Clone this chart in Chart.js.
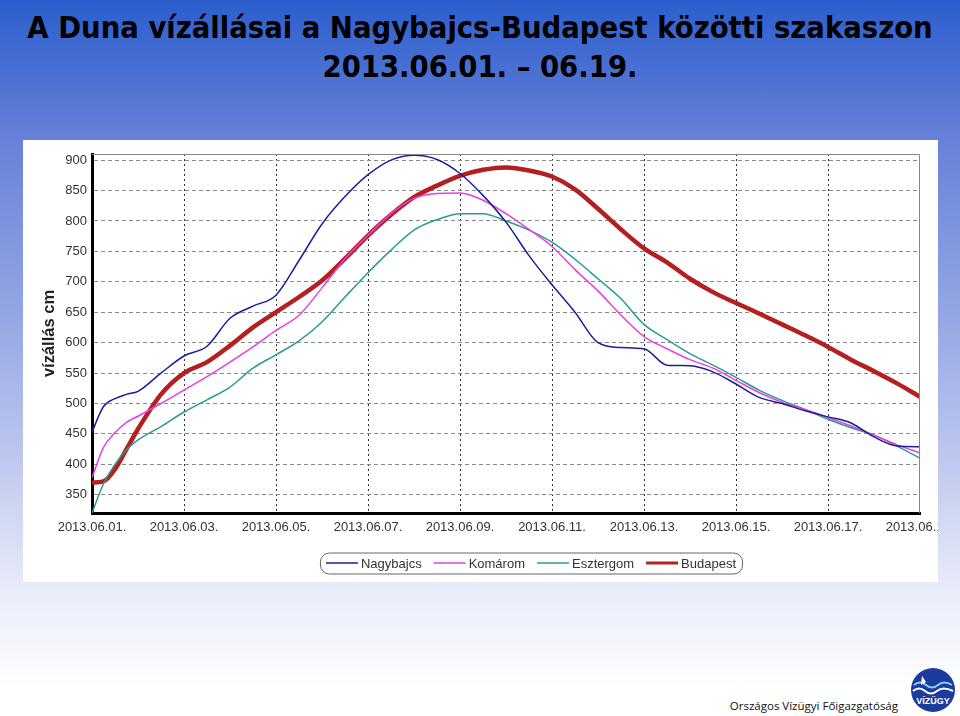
<!DOCTYPE html>
<html>
<head>
<meta charset="utf-8">
<script src="https://cdn.jsdelivr.net/npm/chart.js"></script>
<style>
  html, body { margin: 0; padding: 0; }
  body {
    width: 960px; height: 716px; position: relative; overflow: hidden;
    background: linear-gradient(to bottom, #2c5ecd 0%, #6882d8 20%, #96a8e4 45%, #bcc6ee 63%, #e8ebf9 82%, #ffffff 96%);
    font-family: 'Liberation Sans', Arial, sans-serif;
  }
  .title {
    position: absolute; left: 0; top: 8px; width: 960px; text-align: center;
    font-family: 'DejaVu Sans Condensed', 'DejaVu Sans', sans-serif; font-stretch: condensed;
    font-weight: bold; font-size: 30.6px; line-height: 39px; color: #000;
  }
  .chart-box {
    position: absolute; left: 23px; top: 140px; width: 915px; height: 442px; background: #fff;
  }
  .footer {
    position: absolute; left: 700px; top: 698px; width: 198px; text-align: right;
    font-family: 'Open Sans', sans-serif; font-size: 11.5px; color: #111;
  }
  .logo { position: absolute; left: 910px; top: 667px; }
</style>
</head>
<body>
<div class="title">A Duna vízállásai a Nagybajcs-Budapest közötti szakaszon<br>2013.06.01. – 06.19.</div>
<div class="chart-box"><canvas id="mainChart" width="915" height="442"></canvas></div>
<div class="footer">Országos Vízügyi Főigazgatóság</div>
<svg class="logo" width="46" height="46" viewBox="0 0 46 46">
  <circle cx="23" cy="23" r="22" fill="#1b3c9c"/>
  <path d="M4 18 q6 -5 12 0 t12 0 t14 0" stroke="#8fd0ff" stroke-width="2" fill="none"/>
  <path d="M3 24 q6 -5 12 0 t12 0 t16 0" stroke="#fff" stroke-width="2" fill="none"/>
  <path d="M12 9 l4 6 l-5 3 z" fill="#fff"/>
  <text x="23" y="37" text-anchor="middle" font-family="Liberation Sans" font-weight="bold" font-size="9" fill="#fff">VÍZÜGY</text>
</svg>
<script>
// idő (nap 2013.06.01. 00:00-tól)
const days = [0, 0.25, 0.5, 0.75, 1, 1.5, 2, 2.5, 3, 3.5, 4, 4.5, 5, 5.5, 6, 6.5, 7, 7.5, 8, 8.5,
  9, 9.5, 10, 10.5, 11, 11.5, 12, 12.5, 13, 13.5, 14, 14.5, 15, 15.5, 16, 16.5, 17, 17.5, 18];

const nagybajcs = [453, 495, 508, 515, 520, 550, 578, 594, 640, 660, 678, 735, 795, 840, 876, 900, 908, 901, 878, 842,
  798, 743, 695, 650, 600, 592, 590, 563, 562, 552, 532, 510, 500, 488, 478, 468, 445, 430, 429];
const komarom = [378, 428, 452, 469, 479, 500, 522, 544, 568, 593, 620, 645, 690, 738, 776, 812, 837, 845, 846, 834,
  812, 786, 758, 720, 685, 645, 610, 590, 572, 558, 538, 518, 502, 490, 477, 463, 448, 432, 419];
const esztergom = [320, 368, 400, 424, 440, 462, 486, 506, 527, 558, 580, 603, 634, 675, 715, 752, 785, 802, 812, 812,
  800, 785, 765, 737, 705, 672, 630, 605, 582, 563, 543, 522, 505, 490, 474, 460, 448, 430, 410];
const budapest = [370, 372, 392, 425, 458, 515, 550, 568, 595, 625, 650, 675, 702, 738, 776, 810, 839, 858, 874, 884,
  888, 883, 873, 852, 820, 786, 755, 732, 705, 683, 665, 648, 630, 612, 593, 572, 553, 533, 511];

const xTickLabels = ['2013.06.01.', '2013.06.03.', '2013.06.05.', '2013.06.07.', '2013.06.09.',
  '2013.06.11.', '2013.06.13.', '2013.06.15.', '2013.06.17.', '2013.06.19.'];
const yTicks = [350, 400, 450, 500, 550, 600, 650, 700, 750, 800, 850, 900];

function toPoints(values) {
  return values.map((v, i) => ({ x: days[i], y: v }));
}

// vékony szürke keret a rajzterület tetején és jobb oldalán
const frame = {
  id: 'frame',
  afterDatasetsDraw(chart) {
    const a = chart.chartArea, ctx = chart.ctx;
    ctx.save();
    ctx.strokeStyle = '#888';
    ctx.lineWidth = 1;
    ctx.beginPath();
    ctx.moveTo(a.left, a.top + 0.5);
    ctx.lineTo(a.right - 0.5, a.top + 0.5);
    ctx.lineTo(a.right - 0.5, a.bottom);
    ctx.stroke();
    ctx.restore();
  }
};

// jelmagyarázat lekerekített keretben
const boxLegend = {
  id: 'boxLegend',
  afterDraw(chart) {
    const ctx = chart.ctx;
    const sets = chart.data.datasets;
    const cx = 508, cy = 423, sample = 32, gap = 3, between = 12, pad = 6;
    ctx.save();
    ctx.font = '13px "Liberation Sans", Arial, sans-serif';
    let total = 0;
    sets.forEach((d, i) => {
      total += sample + gap + ctx.measureText(d.label).width;
      if (i < sets.length - 1) total += between;
    });
    const w = total + pad * 2, h = 21;
    ctx.strokeStyle = '#666';
    ctx.lineWidth = 1;
    ctx.beginPath();
    ctx.roundRect(cx - w / 2 + 0.5, cy - h / 2 + 0.5, w, h, 9);
    ctx.stroke();
    let x = cx - w / 2 + pad;
    ctx.textBaseline = 'middle';
    ctx.fillStyle = '#333';
    sets.forEach(d => {
      ctx.strokeStyle = d.borderColor;
      ctx.lineWidth = Math.min(d.borderWidth, 3);
      ctx.beginPath();
      ctx.moveTo(x, cy);
      ctx.lineTo(x + sample, cy);
      ctx.stroke();
      x += sample + gap;
      ctx.fillText(d.label, x, cy + 1);
      x += ctx.measureText(d.label).width + between;
    });
    ctx.restore();
  }
};

Chart.defaults.font.family = '"Liberation Sans", Arial, sans-serif';

new Chart(document.getElementById('mainChart'), {
  type: 'line',
  data: {
    datasets: [
      { label: 'Nagybajcs', data: toPoints(nagybajcs), borderColor: '#1e1e96', borderWidth: 1.5 },
      { label: 'Komárom', data: toPoints(komarom), borderColor: '#e442e0', borderWidth: 1.5 },
      { label: 'Esztergom', data: toPoints(esztergom), borderColor: '#2b9c8c', borderWidth: 1.5 },
      { label: 'Budapest', data: toPoints(budapest), borderColor: '#b41f1f', borderWidth: 4.5 }
    ]
  },
  options: {
    responsive: false,
    animation: false,
    events: [],
    elements: {
      point: { radius: 0 },
      line: { tension: 0.35, cubicInterpolationMode: 'monotone' }
    },
    layout: { padding: { left: 0, right: 18, top: 14, bottom: 41 } },
    plugins: {
      legend: { display: false },
      tooltip: { enabled: false }
    },
    scales: {
      x: {
        type: 'linear',
        min: 0,
        max: 18,
        afterBuildTicks: scale => {
          scale.ticks = xTickLabels.map((t, i) => ({ value: i * 2 }));
        },
        afterFit: scale => {
          scale.height = 28;
          scale.paddingLeft = 0;
          scale.paddingRight = 0;
        },
        ticks: {
          autoSkip: false,
          maxRotation: 0,
          padding: 7,
          color: '#333',
          font: { size: 13 },
          callback: (v) => xTickLabels[Math.round(v / 2)]
        },
        grid: {
          drawTicks: false,
          lineWidth: 1,
          color: c => (c.tick && c.tick.value > 0 && c.tick.value < 18) ? '#333' : 'rgba(0,0,0,0)'
        },
        border: { display: true, color: '#000', width: 3, dash: [2, 3] }
      },
      y: {
        min: 320,
        max: 910,
        afterBuildTicks: scale => {
          scale.ticks = yTicks.map(v => ({ value: v }));
        },
        afterFit: scale => {
          scale.width = 69;
          scale.paddingTop = 0;
          scale.paddingBottom = 0;
        },
        ticks: { padding: 5, color: '#333', font: { size: 13 } },
        grid: { drawTicks: false, color: '#8a8a8a', lineWidth: 1 },
        border: { display: true, color: '#000', width: 3, dash: [4, 3] },
        title: {
          display: true,
          text: 'vízállás cm',
          color: '#222',
          font: { size: 16.5, weight: 'bold' },
          padding: { top: 17, bottom: 0 }
        }
      }
    }
  },
  plugins: [frame, boxLegend]
});
</script>
</body>
</html>
